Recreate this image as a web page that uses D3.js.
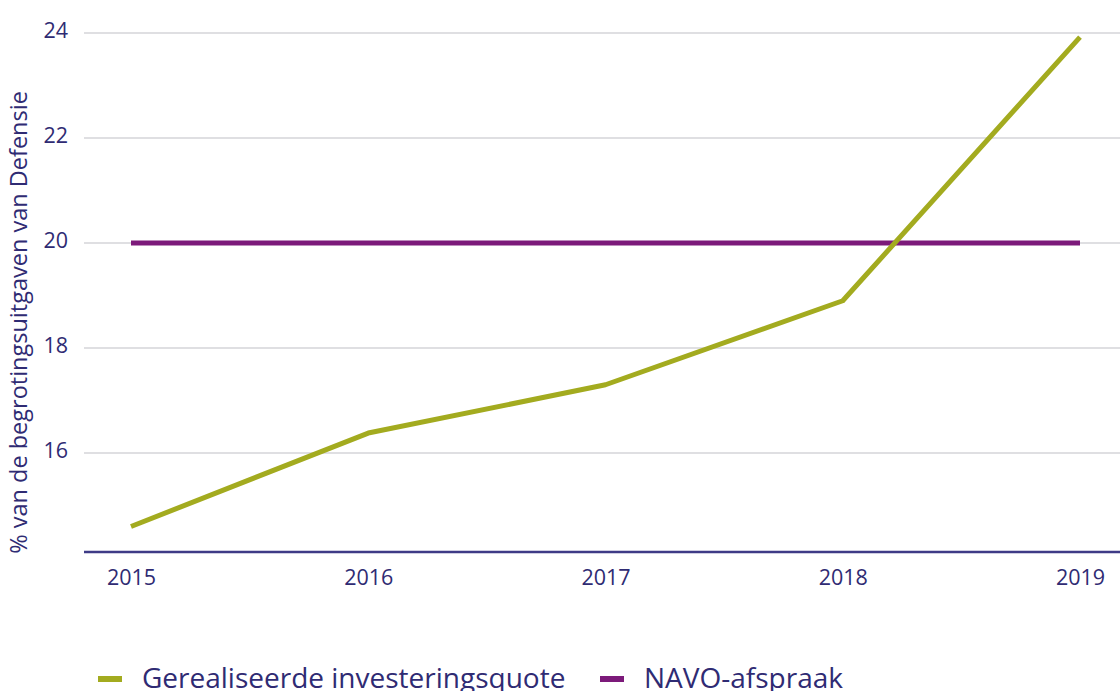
<!DOCTYPE html>
<html>
<head>
<meta charset="utf-8">
<script src="https://cdn.jsdelivr.net/npm/d3@7"></script>
<style>
  body{margin:0;background:#fff;font-family:"Open Sans",sans-serif;}
  svg{display:block;}
</style>
</head>
<body>
<div id="chart"></div>
<script>
const years=[2015,2016,2017,2018,2019];
const quote=[14.6,16.38,17.3,18.9,23.92];
const navo=[20,20,20,20,20];
const yTicks=[16,18,20,22,24];
const seriesNames=["Gerealiseerde investeringsquote","NAVO-afspraak"];
const seriesColors=["#a3ab1f","#7c1a7a"];

(function(){
  const W=1120,H=691;
  const ink="#2f2b73";
  const svg=d3.select("#chart").append("svg").attr("width",W).attr("height",H);

  const x=d3.scaleLinear().domain([2015,2019]).range([131,1080]);
  const y=d3.scaleLinear().domain([16,24]).range([453,33]);
  const axisY=552;

  // gridlines
  svg.append("g").selectAll("line").data(yTicks).join("line")
    .attr("x1",84).attr("x2",W)
    .attr("y1",d=>y(d)).attr("y2",d=>y(d))
    .attr("stroke","#d4d4d8").attr("stroke-width",1.5);

  svg.append("g").selectAll("text").data(yTicks).join("text")
    .attr("x",68).attr("y",d=>y(d)-4)
    .attr("dominant-baseline","central")
    .attr("text-anchor","end")
    .attr("font-size",21.5).attr("fill",ink)
    .text(d=>d);

  // x axis
  svg.append("g").attr("transform",`translate(0,${axisY})`)
    .call(d3.axisBottom(x).tickValues(years).tickFormat(d3.format("d")).tickSize(0).tickPadding(18))
    .call(s=>s.select(".domain").remove())
    .call(s=>s.selectAll("text").attr("font-size",21.5).attr("fill",ink).attr("font-family","Open Sans"));
  svg.append("line").attr("x1",84).attr("x2",W).attr("y1",axisY).attr("y2",axisY)
    .attr("stroke","#3e3b86").attr("stroke-width",2.5);

  svg.append("text")
    .attr("transform",`translate(27,${(92+553)/2}) rotate(-90)`)
    .attr("text-anchor","middle")
    .attr("font-size",23.5).attr("fill",ink)
    .text("% van de begrotingsuitgaven van Defensie");

  const line=d3.line().x((d,i)=>x(years[i])).y(d=>y(d));
  svg.append("path").datum(navo).attr("d",line)
    .attr("fill","none").attr("stroke",seriesColors[1]).attr("stroke-width",5);
  svg.append("path").datum(quote).attr("d",line)
    .attr("fill","none").attr("stroke",seriesColors[0]).attr("stroke-width",5)
    .attr("stroke-linejoin","round");

  // legend
  const lg=svg.append("g").attr("transform","translate(98,680)");
  const offs=[0,502];
  seriesNames.forEach((n,i)=>{
    lg.append("rect").attr("x",offs[i]).attr("y",-4).attr("width",24).attr("height",6)
      .attr("fill",seriesColors[i]);
    lg.append("text").attr("x",offs[i]+44).attr("y",8)
      .attr("font-size",28).attr("fill",ink).text(n);
  });
})();
</script>
</body>
</html>
